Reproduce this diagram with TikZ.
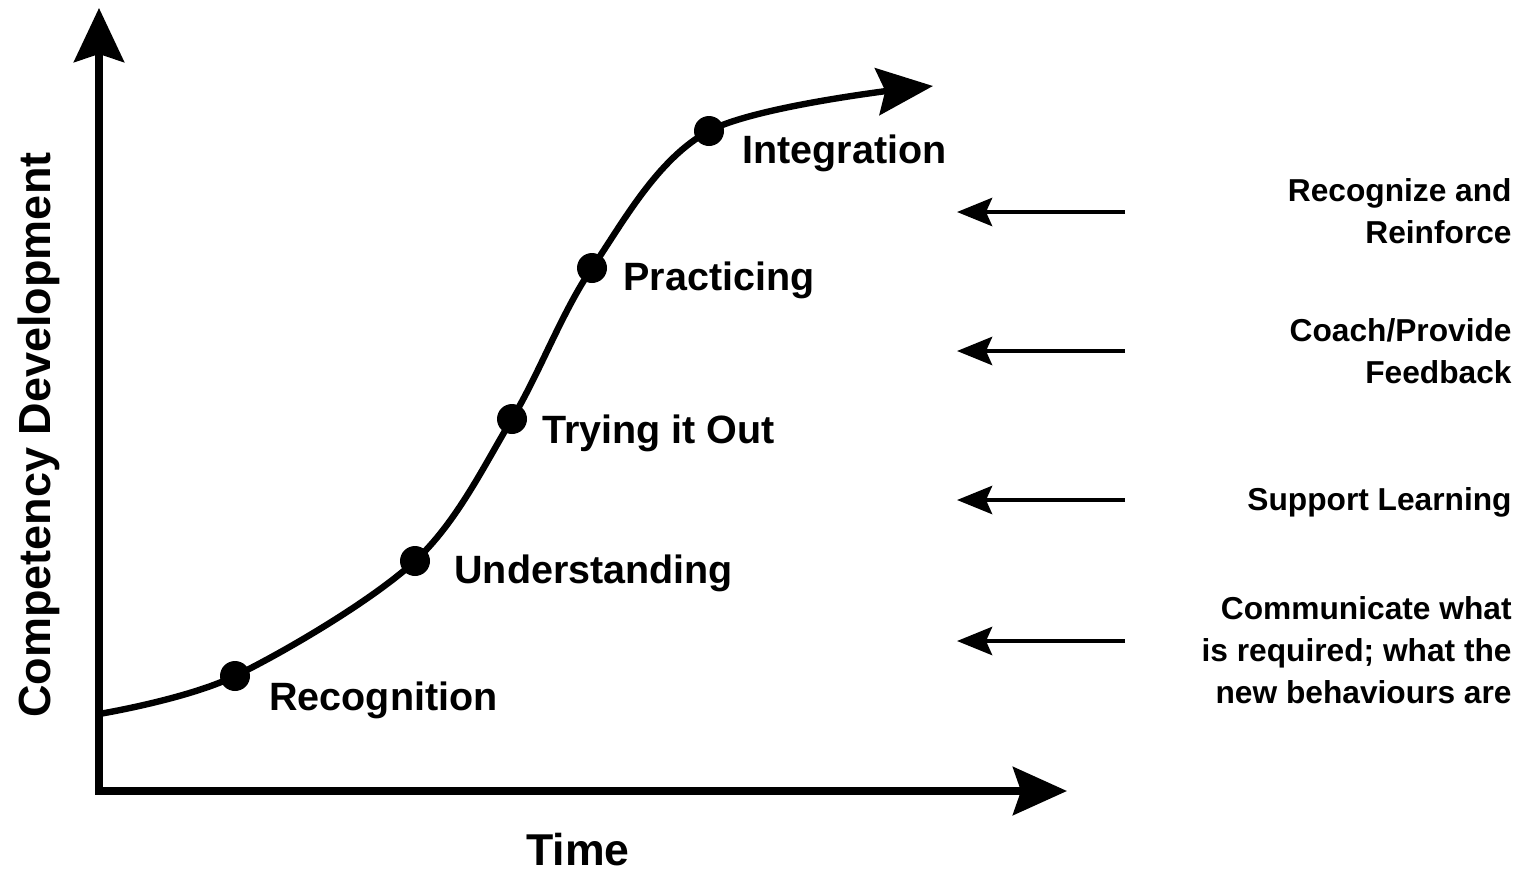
\documentclass[tikz,border=0pt]{standalone}
\usepackage{fontspec}
\setmainfont{Liberation Sans}
\usetikzlibrary{arrows.meta}

\tikzset{
  axis/.style={line width=3.6pt,{Stealth[length=27pt,width=25pt,inset=4pt]}-{Stealth[length=27pt,width=24pt,inset=4pt]}},
  curve/.style={line width=3.2pt,-{Stealth[length=28pt,width=23.5pt,inset=4pt]}},
  hint/.style={line width=2.4pt,-{Stealth[length=17.5pt,width=14pt,inset=3pt]}},
  dot/.style={circle,fill=black,inner sep=0pt,minimum size=15pt},
  stage/.style={inner sep=0pt,font=\fontsize{19.75}{24}\selectfont\bfseries},
  note/.style={inner sep=0pt,align=right,font=\fontsize{15.85}{21}\selectfont\bfseries}
}

\begin{document}
\begin{tikzpicture}[x=0.5pt,y=-0.5pt]
\useasboundingbox (0,0) rectangle (1522,874);

% axes
\coordinate (orig) at (99,791);
\coordinate (ytip) at (99,8);
\coordinate (xtip) at (1067,791);
\draw[axis] (ytip) -- (orig) -- (xtip);
\node[anchor=base,rotate=90,inner sep=0pt,font=\fontsize{22.5}{26}\selectfont\bfseries] (ylabel) at (50,435) {Competency Development};
\node[anchor=base,inner sep=0pt,font=\fontsize{22.3}{26}\selectfont\bfseries] (xlabel) at (578,865) {Time};

% s-curve
\coordinate (start) at (99,714);
\coordinate (recog) at (235,676);
\coordinate (under) at (415,561);
\coordinate (trying) at (512,419);
\coordinate (pract) at (592,268);
\coordinate (integ) at (709,131);
\coordinate (tip) at (933,86);
\draw[curve] plot[smooth,tension=0.55] coordinates {(start) (recog) (under) (trying) (pract) (integ) (tip)};

\foreach \p in {recog,under,trying,pract,integ}
  \node[dot] (\p dot) at (\p) {};

\node[stage,anchor=base west] (recoglbl) at (269,710) {Recognition};
\node[stage,anchor=base west] (underlbl) at (454,583) {Understanding};
\node[stage,anchor=base west] (tryinglbl) at (542,443) {Trying it Out};
\node[stage,anchor=base west] (practlbl) at (623,290) {Practicing};
\node[stage,anchor=base west] (integlbl) at (742,163) {Integration};

% support actions, base anchor sits on the last line
\foreach \y [count=\i] in {212,351,500,641} {
  \coordinate (from\i) at (1125,\y);
  \coordinate (to\i) at (957,\y);
  \draw[hint] (from\i) -- (to\i);
}
\node[note,anchor=base east] (reinforce) at (1512,243) {Recognize and\\Reinforce};
\node[note,anchor=base east] (coach) at (1512,383) {Coach/Provide\\Feedback};
\node[note,anchor=base east] (support) at (1512,510) {Support Learning};
\node[note,anchor=base east] (inform) at (1512,703) {Communicate what\\is required; what the\\new behaviours are};
\end{tikzpicture}
\end{document}
